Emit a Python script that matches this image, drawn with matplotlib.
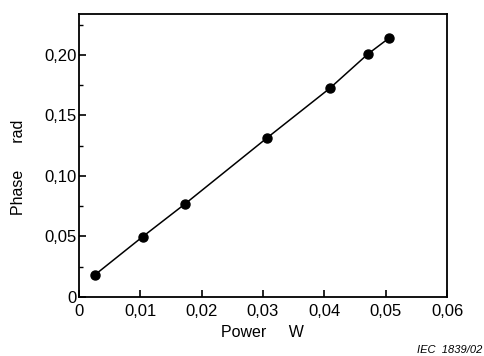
import numpy as np
import matplotlib.pyplot as plt
from matplotlib.ticker import MultipleLocator

plt.rcParams['font.family'] = ['Liberation Sans', 'DejaVu Sans']

# measured phase shift against optical power
power = [0.0026, 0.0104, 0.0173, 0.0306, 0.0409, 0.0471, 0.0505]
phase = [0.0182, 0.0498, 0.0769, 0.1312, 0.1725, 0.2008, 0.2138]

xticks = [0, 0.01, 0.02, 0.03, 0.04, 0.05, 0.06]
xlabels = ['0', '0,01', '0,02', '0,03', '0,04', '0,05', '0,06']
yticks = [0, 0.05, 0.10, 0.15, 0.20]
ylabels = ['0', '0,05', '0,10', '0,15', '0,20']

fig = plt.figure(figsize=(4.84, 3.56), dpi=100)
ax = fig.add_axes([0.163, 0.166, 0.7606, 0.795])

ax.plot(power, phase, '-', color='black', lw=1.1)
ax.plot(power, phase, 'o', color='black', ms=6.5)

ax.set_xlim(0, 0.06)
ax.set_ylim(0, 0.234)
ax.set_xticks(xticks)
ax.set_xticklabels(xlabels)
ax.set_yticks(yticks)
ax.set_yticklabels(ylabels)
ax.yaxis.set_minor_locator(MultipleLocator(0.025))

ax.tick_params(axis='both', which='major', direction='in', length=5, width=1.2,
               labelsize=12, colors='black')
ax.tick_params(axis='x', pad=5)
ax.tick_params(axis='y', pad=1.5)
ax.tick_params(axis='y', which='minor', direction='in', length=3, width=1)
for s in ax.spines.values():
    s.set_linewidth(1.3)

fig.text(0.038, 0.529, 'Phase      rad', rotation=90, ha='center', va='center', fontsize=11.5)
fig.text(0.543, 0.067, 'Power     W', ha='center', va='center', fontsize=11.5)
fig.text(0.997, 0.003, 'IEC  1839/02', ha='right', va='bottom', fontsize=8, style='italic')

fig.savefig('out.png', dpi=100)
